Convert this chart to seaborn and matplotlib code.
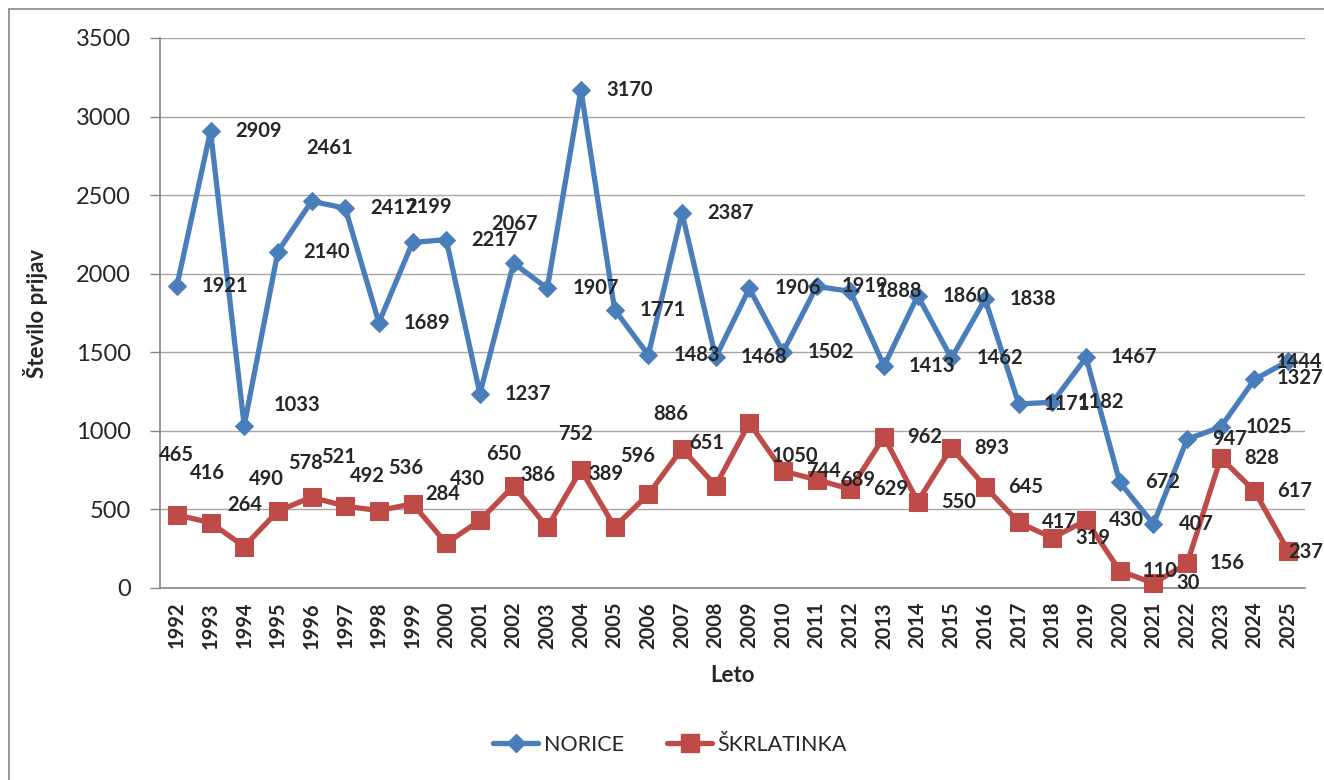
import matplotlib
matplotlib.use("Agg")
import matplotlib.pyplot as plt
import matplotlib.lines as mlines
import pandas as pd
import seaborn as sns

# Data
years = list(range(1992, 2026))
norice = [1921, 2909, 1033, 2140, 2461, 2417, 1689, 2199, 2217, 1237, 2067, 1907,
          3170, 1771, 1483, 2387, 1468, 1906, 1502, 1919, 1888, 1413, 1860, 1462,
          1838, 1171, 1182, 1467, 672, 407, 947, 1025, 1327, 1444]
skrlatinka = [465, 416, 264, 490, 578, 521, 492, 536, 284, 430, 650, 386,
              752, 389, 596, 886, 651, 1050, 744, 689, 629, 962, 550, 893,
              645, 417, 319, 430, 110, 30, 156, 828, 617, 237]

# label offsets in pixels (dx to left edge, dy downward) - as placed in the original
blue_off = {1994: (29, -21), 1996: (-5, -53), 1999: (-7, -35), 2002: (-22, -39),
            2024: (22, -1), 2025: (-12, 1)}
red_off = {1992: (-18, -60), 1993: (-21, -50), 1994: (-17, -42), 1995: (-29, -32),
           1996: (-23, -34), 1997: (-24, -49), 1998: (-29, -35), 1999: (-24, -36),
           2000: (-21, -49), 2001: (-30, -41), 2002: (-27, -32), 2003: (-27, -52),
           2004: (-23, -36), 2005: (-26, -53), 2006: (-28, -38), 2007: (-29, -35),
           2008: (-27, -43), 2009: (22, 33), 2025: (0, 1)}

blue = "#4A7EBB"
red = "#BE4B48"

sns.set_style("white")
plt.rcParams['font.family'] = ['Lato', 'DejaVu Sans']

df = pd.DataFrame({"Leto": years, "NORICE": norice, "ŠKRLATINKA": skrlatinka})

fig = plt.figure(figsize=(13.24, 7.8), dpi=100)
ax = fig.add_axes([160 / 1324, 1 - 588 / 780, 1145 / 1324, 550 / 780])

sns.lineplot(data=df, x="Leto", y="NORICE", ax=ax, color=blue, lw=3.8,
             marker="D", markersize=9.5, markeredgecolor=blue, clip_on=False, zorder=3)
sns.lineplot(data=df, x="Leto", y="ŠKRLATINKA", ax=ax, color=red, lw=3.8,
             marker="s", markersize=12.5, markeredgecolor=red, clip_on=False, zorder=3)

ax.set_xlim(1991.5, 2025.5)
ax.set_ylim(0, 3500)
ax.set_yticks(range(0, 3501, 500))
ax.set_xticks(years)
ax.set_xticklabels([str(y) for y in years], rotation=90, fontsize=14.5, fontweight="bold")
ax.tick_params(axis="y", labelsize=17, length=7, width=1, color="#868686",
               direction="out", pad=14, left=True)
ax.tick_params(axis="x", length=0, pad=10)
ax.yaxis.grid(True, color="#a6a6a6", lw=1)
ax.set_axisbelow(True)
for s in ["top", "right"]:
    ax.spines[s].set_visible(False)
for s in ["left", "bottom"]:
    ax.spines[s].set_color("#868686")
    ax.spines[s].set_linewidth(1.2)

ax.set_xlabel("Leto", fontsize=16, fontweight="bold", labelpad=12)
ax.set_ylabel("Število prijav", fontsize=16, fontweight="bold", labelpad=20)

# data labels
for y, v in zip(years, norice):
    dx, dy = blue_off.get(y, (25, 0))
    ax.annotate(str(v), (y, v), xytext=(dx, -dy), textcoords="offset pixels",
                ha="left", va="center", fontsize=14.5, fontweight="bold", zorder=5,
                annotation_clip=False)
for y, v in zip(years, skrlatinka):
    dx, dy = red_off.get(y, (23, 0))
    ax.annotate(str(v), (y, v), xytext=(dx, -dy), textcoords="offset pixels",
                ha="left", va="center", fontsize=14.5, fontweight="bold", zorder=5,
                annotation_clip=False)

# legend
h1 = mlines.Line2D([], [], color=blue, lw=3.8, marker="D", markersize=9.5)
h2 = mlines.Line2D([], [], color=red, lw=3.8, marker="s", markersize=12.5)
fig.legend([h1, h2], ["NORICE", "ŠKRLATINKA"], loc="center",
           bbox_to_anchor=(670 / 1324, 1 - 745 / 780), ncol=2, frameon=False,
           fontsize=15.5, handlelength=2.1, columnspacing=2.0, handletextpad=0.25)

# outer chart border
fig.add_artist(mlines.Line2D([9 / 1324, 9 / 1324], [0, 1 - 9 / 780],
                             transform=fig.transFigure, color="#868686", lw=1.2))
fig.add_artist(mlines.Line2D([9 / 1324, 1], [1 - 9 / 780, 1 - 9 / 780],
                             transform=fig.transFigure, color="#868686", lw=1.2))

fig.savefig("out.png", dpi=100)
